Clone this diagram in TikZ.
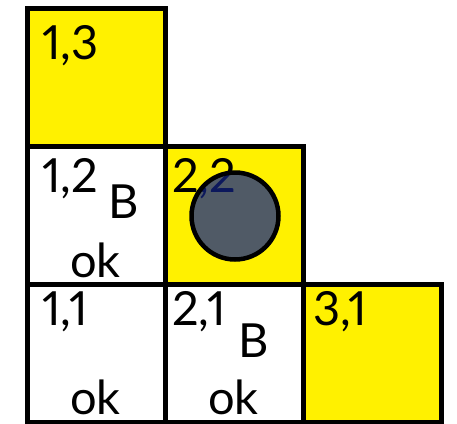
\documentclass[tikz,border=0pt]{standalone}
\usepackage{fontspec}
\setmainfont{Lato}
\newfontfamily\numfont[Numbers=Proportional]{Lato}
\definecolor{cellyellow}{RGB}{255,241,0}
\definecolor{agentgray}{RGB}{80,90,102}
\definecolor{navytext}{RGB}{12,24,92}
\begin{document}
\begin{tikzpicture}[x=1pt,y=-1pt,
  cell/.style={minimum size=138pt,inner sep=0pt,outer sep=0pt,anchor=north west},
  grid/.style={draw=black,line width=5pt},
  lbl/.style={anchor=base west,inner sep=0pt,outer sep=0pt,font=\fontsize{47}{47}\selectfont},
  num/.style={lbl,font=\numfont\fontsize{47}{47}\selectfont},
  agent/.style={circle,minimum size=87pt,inner sep=0pt,line width=4.5pt}]
\useasboundingbox (0,0) rectangle (457,423);
% cells
\node[cell,fill=cellyellow] (c13) at (27,8) {};
\node[cell,fill=white] (c12) at (27,146) {};
\node[cell,fill=cellyellow] (c22) at (165,146) {};
\node[cell,fill=white] (c11) at (27,284) {};
\node[cell,fill=white] (c21) at (165,284) {};
\node[cell,fill=cellyellow] (c31) at (303,284) {};
% labels
\node[num] (t13) at (42,59) {1,3};
\node[num] (t12) at (42,192) {1,2};
\node[lbl] (b12) at (108,218) {B};
\node[lbl] (o12) at (70,277) {ok};
\node[num] (t22) at (172,192) {2,2};
\node[num] (t11) at (42,325) {1,1};
\node[lbl] (o11) at (70,414) {ok};
\node[num] (t21) at (172,325) {2,1};
\node[lbl] (b21) at (238,357) {B};
\node[lbl] (o21) at (208,414) {ok};
\node[num] (t31) at (313,325) {3,1};
% agent
\node[agent,fill=agentgray] (ag) at (235,216) {};
\begin{scope}
  \clip (ag.center) circle (43pt);
  \node[num,text=navytext] (t22n) at (172,192) {2,2};
\end{scope}
\node[agent,draw=black] (agb) at (235,216) {};
% grid lines
\foreach \c in {c13,c12,c22,c11,c21,c31}{
  \draw[grid] (\c.north west) rectangle (\c.south east);
}
\end{tikzpicture}
\end{document}
